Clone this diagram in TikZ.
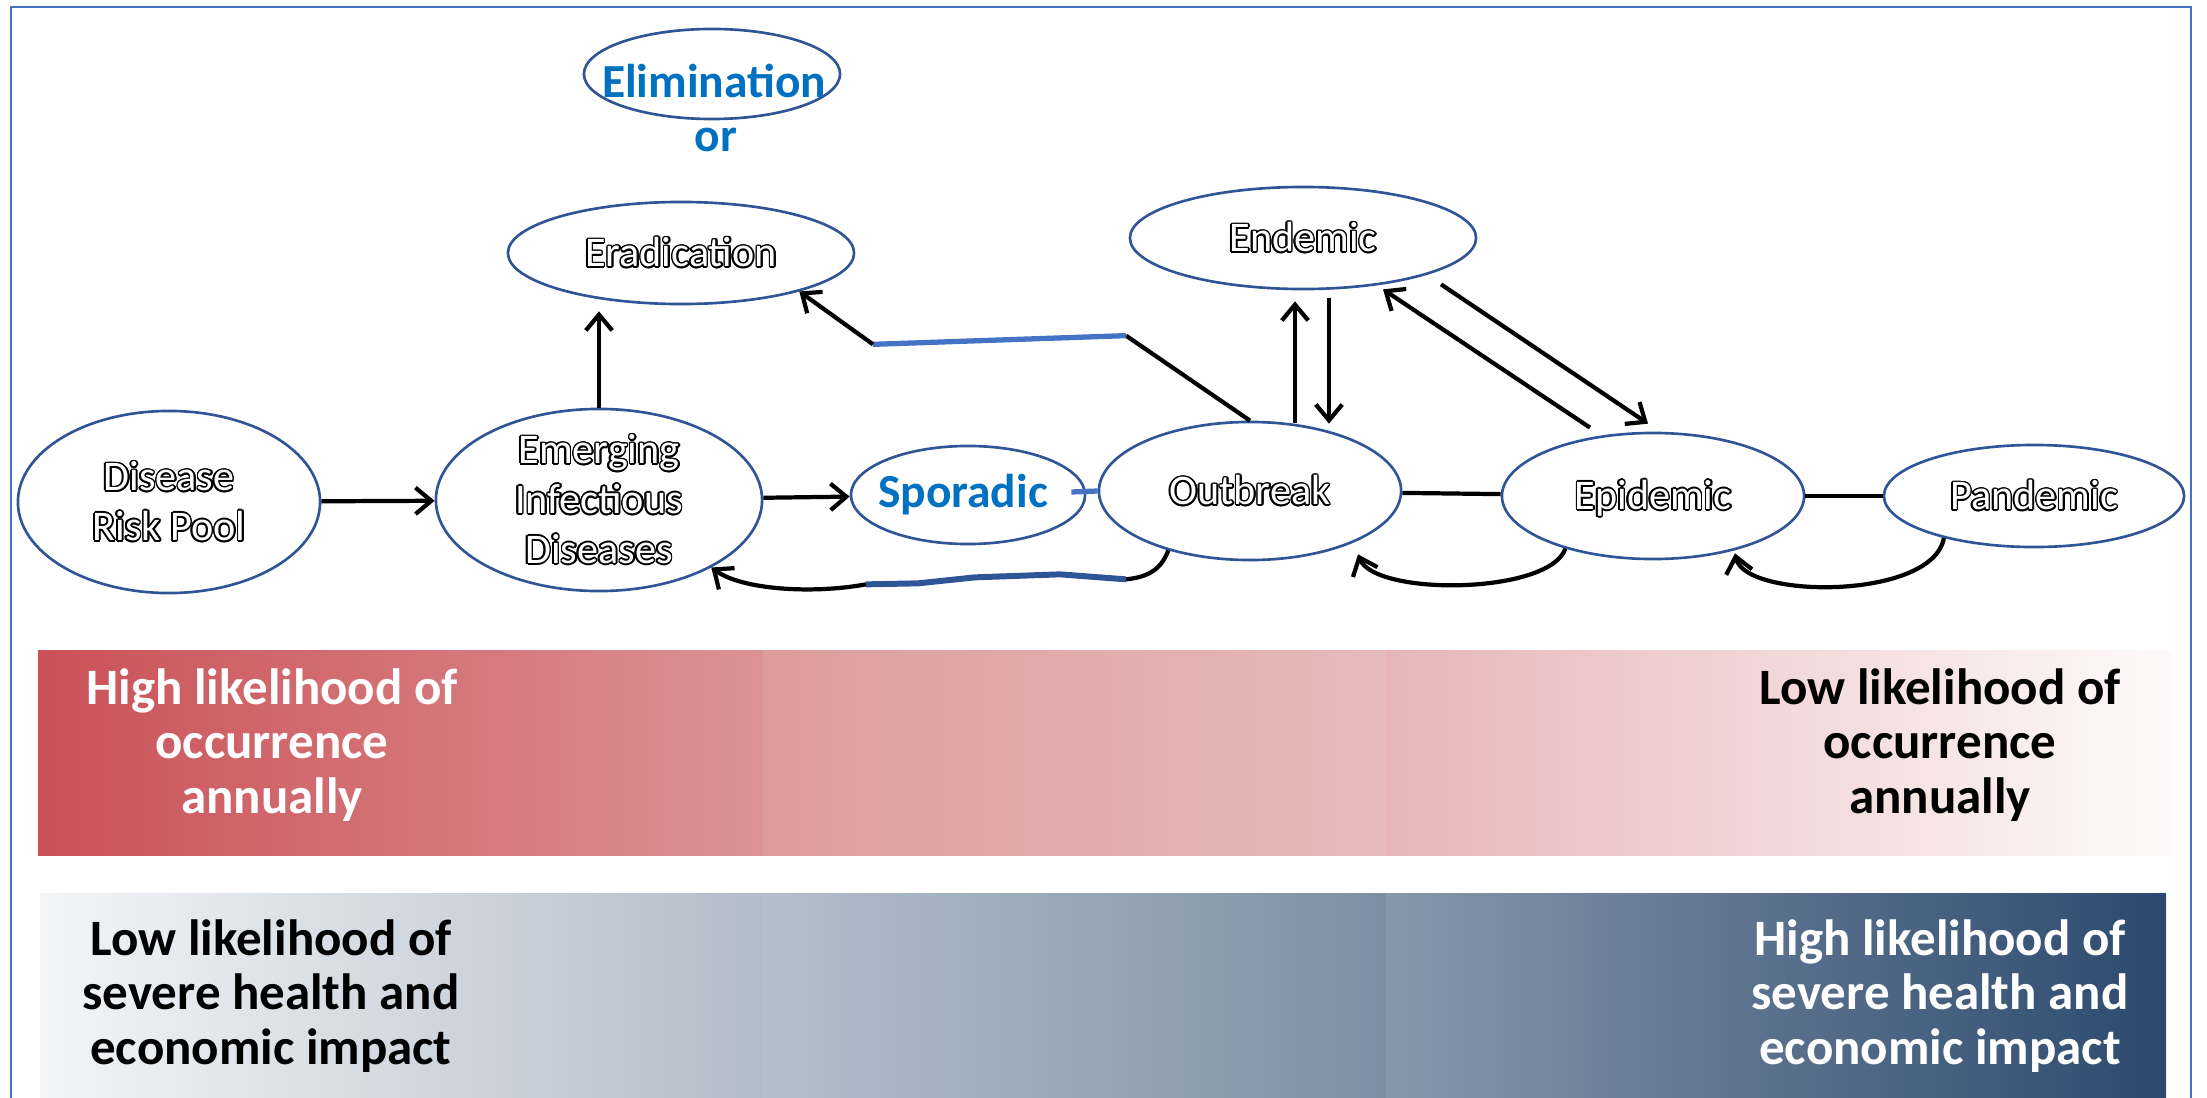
\documentclass[tikz,border=0pt]{standalone}
\usepackage{fontspec}
\setmainfont{Carlito}
\usepackage{contour}
\contourlength{0.45pt}
\usetikzlibrary{shapes.geometric,arrows.meta,calc}

\definecolor{ringblue}{RGB}{47,85,151}
\definecolor{patchblue}{RGB}{68,114,196}
\definecolor{wordblue}{RGB}{0,112,192}
\definecolor{redA}{RGB}{202,82,88}
\definecolor{redB}{RGB}{220,146,148}
\definecolor{redC}{RGB}{221,156,158}
\definecolor{redD}{RGB}{231,186,187}
\definecolor{redE}{RGB}{231,181,184}
\definecolor{redF}{RGB}{254,250,250}
\definecolor{greyA}{RGB}{243,245,247}
\definecolor{greyB}{RGB}{178,188,200}
\definecolor{greyC}{RGB}{180,191,203}
\definecolor{greyD}{RGB}{126,142,164}
\definecolor{greyE}{RGB}{135,151,172}
\definecolor{greyF}{RGB}{44,74,110}

\newcommand{\hollow}[1]{\contour{black}{#1}}

\begin{document}
\begin{tikzpicture}[x=0.01cm, y=-0.01cm,
    stage/.style={ellipse, draw=ringblue, line width=0.75pt, fill=white, inner sep=0pt},
    stagetext/.style={text=white, align=center, font=\fontsize{12}{14.2}\selectfont},
    bluetext/.style={text=wordblue, font=\fontsize{13.5}{15}\selectfont\bfseries},
    bandtext/.style={align=center, font=\fontsize{14.5}{15.6}\selectfont\bfseries},
    flow/.style={line width=1.2pt, -{Straight Barb[length=4.5pt,width=7.5pt]}},
    link/.style={line width=1.2pt},
    patch/.style={patchblue, line width=1.5pt},
    darkpatch/.style={ringblue, line width=1.7pt}]

  \useasboundingbox (0,0) rectangle (2207,1097);
  \draw[patchblue, line width=0.8pt] (11,1120) -- (11,7) -- (2191,7) -- (2191,1120);

  % likelihood bands
  \shade[left color=redA, right color=redB] (38,650) rectangle (763,855);
  \shade[left color=redC, right color=redD] (763,650) rectangle (1386,855);
  \shade[left color=redE, right color=redF] (1386,650) rectangle (2172,855);
  \shade[left color=greyA, right color=greyB] (40,893) rectangle (763,1097);
  \shade[left color=greyC, right color=greyD] (763,893) rectangle (1386,1097);
  \shade[left color=greyE, right color=greyF] (1386,893) rectangle (2166,1097);

  \node[bandtext, text=white] (occhigh) at (272,745) {High likelihood of\\occurrence\\annually};
  \node[bandtext] (occlow) at (1940,745) {Low likelihood of\\occurrence\\annually};
  \node[bandtext] (implow) at (271,996) {Low likelihood of\\severe health and\\economic impact};
  \node[bandtext, text=white] (imphigh) at (1940,996) {High likelihood of\\severe health and\\economic impact};

  % stages
  \node[stage, minimum width=2.56cm, minimum height=0.9cm] (elim) at (712,74) {};
  \node[stage, minimum width=3.46cm, minimum height=1.02cm] (erad) at (681,253) {};
  \node[stage, minimum width=3.02cm, minimum height=1.82cm] (drp) at (169,502) {};
  \node[stage, minimum width=3.26cm, minimum height=1.82cm] (eid) at (599,500) {};
  \node[stage, minimum width=2.34cm, minimum height=0.98cm] (spor) at (968,495) {};
  \node[stage, minimum width=3.02cm, minimum height=1.38cm] (outb) at (1250,491) {};
  \node[stage, minimum width=3.46cm, minimum height=1.02cm] (endm) at (1303,238) {};
  \node[stage, minimum width=3.02cm, minimum height=1.26cm] (epid) at (1653,496) {};
  \node[stage, minimum width=3.00cm, minimum height=1.02cm] (pand) at (2034,496) {};

  \node[bluetext] (elimtext) at (714,81) {Elimination};
  \node[bluetext] (ortext) at (716,140) {or};
  \node[stagetext] (eradtext) at (erad) {\hollow{Eradication}};
  \node[stagetext] (drptext) at (drp) {\hollow{Disease}\\\hollow{Risk Pool}};
  \node[stagetext] (eidtext) at (eid) {\hollow{Emerging}\\\hollow{Infectious}\\\hollow{Diseases}};
  \node[bluetext] (sportext) at (963,495) {Sporadic};
  \node[stagetext] (outbtext) at (outb) {\hollow{Outbreak}};
  \node[stagetext] (endmtext) at (endm) {\hollow{Endemic}};
  \node[stagetext] (epidtext) at (1653,499) {\hollow{Epidemic}};
  \node[stagetext] (pandtext) at (pand) {\hollow{Pandemic}};

  % connectors
  \draw[flow] (drp) -- (eid);
  \draw[flow, shorten >=1.7pt] (eid.north) -- (eid.north |- erad.south);
  \draw[flow] (eid) -- (spor);
  \draw[patch] ($(spor.east)+(-15,-3)$) -- (outb.west);

  \coordinate (bk1) at ($(outb.north)+(-124,-85)$);
  \coordinate (bk2) at ($(erad.south)+(192,39)$);
  \draw[link] (outb.north) -- (bk1);
  \draw[patch] (bk1) -- (bk2);
  \draw[flow] (bk2) -- (erad.342);

  \draw[flow] ($(outb.north)+(45,2)$) -- ($(endm.south)+(-8,11)$);
  \draw[flow] ($(endm.south)+(26,8)$) -- ($(outb.north)+(79,3)$);
  \draw[flow] ($(epid.north)+(-63,-4)$) -- ($(endm.south)+(80,-1)$);
  \draw[flow] ($(endm.south)+(138,-6)$) -- ($(epid.north)+(-5,-8)$);

  \draw[link] (outb) -- (epid);
  \draw[link] (epid) -- (pand);

  % loops back
  \coordinate (lp1) at ($(spor.south)+(158,34)$);
  \coordinate (lp2) at ($(spor.south)+(-102,39)$);
  \draw[link] (outb.216) .. controls +(-8,22) and +(18,-2) .. (lp1);
  \draw[darkpatch] (lp1) -- ++(-66,-5) -- ++(-85,3) -- ++(-57,6) -- (lp2);
  \draw[flow] (lp2) .. controls +(-55,10) and +(30,22) .. (eid.-31);

  \draw[flow] (epid.211) .. controls +(-16,46) and +(17,42) .. ($(outb.south)+(108,-7)$);
  \draw[flow] (pand.205) .. controls +(-11,62) and +(10,46) .. ($(epid.south)+(82,-7)$);

\end{tikzpicture}
\end{document}
